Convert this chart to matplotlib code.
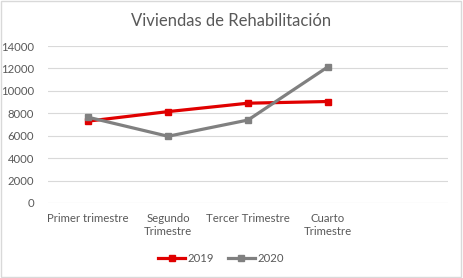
import numpy as np
import matplotlib.pyplot as plt

plt.rcParams['font.family'] = ['Lato', 'DejaVu Sans']

categories = ['Primer trimestre', 'Segundo\nTrimestre', 'Tercer Trimestre', 'Cuarto\nTrimestre', '']
v2019 = [7300, 8150, 8900, 9050]
v2020 = [7650, 5950, 7400, 12150]

fig = plt.figure(figsize=(4.63, 2.78), dpi=100)
ax = fig.add_axes([0.1037, 0.2698, 0.864, 0.5647])

x = np.arange(len(v2019))
ax.plot(x, v2019, '-s', color='#E00000', lw=2.3, ms=5, label='2019', zorder=3)
ax.plot(x, v2020, '-s', color='#808080', lw=2.3, ms=5, label='2020', zorder=3)

ax.set_xlim(-0.5, len(categories) - 0.5)
ax.set_ylim(0, 14000)
ax.set_yticks(np.arange(0, 14001, 2000))
ax.set_xticks(np.arange(len(categories)))
ax.set_xticklabels(categories, fontsize=8.2, color='#595959', linespacing=1.3)
ax.tick_params(axis='y', labelsize=8.2, labelcolor='#595959', length=0, pad=10)
ax.tick_params(axis='x', length=0, pad=7)
ax.grid(axis='y', color='#D9D9D9', lw=0.8)
ax.set_axisbelow(True)
for s in ax.spines.values():
    s.set_visible(False)

fig.text(0.498, 0.925, 'Viviendas de Rehabilitación', ha='center', va='center',
         fontsize=12, color='#595959')

fig.legend(loc='center', bbox_to_anchor=(0.477, 0.07), ncol=2, frameon=False,
           fontsize=8.2, labelcolor='#595959', handlelength=2.4,
           handletextpad=0.2, columnspacing=1.2)

# chart border
fig.patches.append(plt.Rectangle((0.002, 0.004), 0.994, 0.992, transform=fig.transFigure,
                                 fill=False, edgecolor='#D9D9D9', lw=1))

fig.savefig('out.png', dpi=100)
